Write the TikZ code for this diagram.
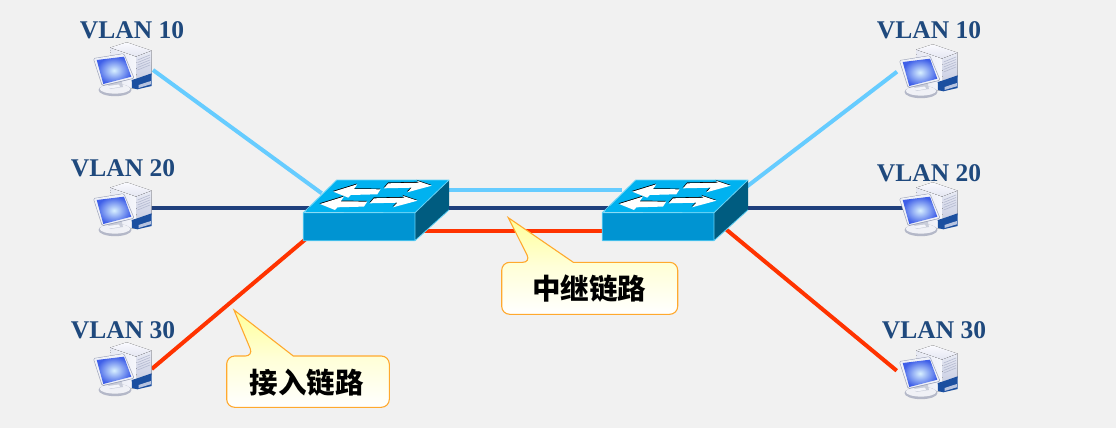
\documentclass[tikz,border=0pt]{standalone}
\usepackage{fontspec}
\setmainfont{Liberation Serif}
\newfontfamily\cjk{Noto Sans CJK SC}
\usetikzlibrary{calc}
\definecolor{bgc}{HTML}{F1F1F1}
\definecolor{lan}{HTML}{1F497D}
\definecolor{lblue}{HTML}{66CCFF}
\definecolor{nblue}{HTML}{1F3F7C}
\definecolor{rred}{HTML}{FF3300}
\definecolor{swtop}{HTML}{00B2F0}
\definecolor{swfront}{HTML}{0094D2}
\definecolor{swside}{HTML}{005C80}
\definecolor{swedge}{HTML}{66D4F8}
\definecolor{orng}{HTML}{FFA92E}
\definecolor{twA}{HTML}{FAFAFE}
\definecolor{twB}{HTML}{E4E6F2}
\definecolor{twC}{HTML}{E6E8F2}
\definecolor{twD}{HTML}{F6F7FC}
\definecolor{twE}{HTML}{E8EAF4}
\definecolor{twF}{HTML}{C8CDE2}
\definecolor{twG}{HTML}{B4B9D0}
\definecolor{twH}{HTML}{1B4FA0}
\definecolor{twI}{HTML}{B8C4E0}
\definecolor{bsA}{HTML}{B4B8C8}
\definecolor{bsB}{HTML}{F0F1F6}
\definecolor{bsC}{HTML}{C9CDDA}
\definecolor{bsD}{HTML}{F4F5FA}
\definecolor{moA}{HTML}{9CA2B8}
\definecolor{moB}{HTML}{F0F2F8}
\definecolor{moC}{HTML}{D8F0FF}
\definecolor{moD}{HTML}{3F5FE8}
\definecolor{tipA}{HTML}{FFFF99}
\definecolor{tipB}{HTML}{FFFFD8}
\tikzset{
  x=1pt,y=-1pt,
  link/.style={line width=4pt,line cap=butt},
  vlan/.style={font=\bfseries\fontsize{25.5}{26}\selectfont,text=lan,inner sep=0pt},
  tip/.style={draw=orng,line width=1.1pt,top color=tipA,bottom color=white,middle color=tipB},
  tiptext/.style={font=\cjk\bfseries\fontsize{28.5}{30}\selectfont,text=black,inner sep=0pt},
  holder/.style={inner sep=0pt,minimum width=58pt,minimum height=54pt,anchor=north west},
  swholder/.style={inner sep=0pt,minimum width=146pt,minimum height=61pt,anchor=north west},
  pcpic/.pic={
    % tower
    \fill[top color=twA,bottom color=twB] (16,5.7)--(32.7,0.3)--(57.7,8.7)--(42,14.7)--cycle;
    \fill[left color=twC,right color=twD] (16,5.7)--(42,14.7)--(43.3,47)--(20,44)--cycle;
    \fill[top color=twE,bottom color=twF] (42,14.7)--(57.7,8.7)--(57.7,33)--(43,38)--cycle;
    \foreach \k in {0,2.5,5,7.5,10}
      \draw[line width=.6pt,color=twG] (43.6,18+\k)--(56,13+\k);
    \fill[color=twH] (37.7,38)--(43.3,36.3)--(57.7,31.3)--(57.7,44)--(43.3,47.3)--(38,46)--cycle;
    \fill[color=twI] (44.5,46)--(56.8,42.3)--(56.8,39)--(44.5,43)--cycle;
    % base
    \fill[color=bsA] (21,48) ellipse [x radius=16.5,y radius=6.2];
    \fill[color=bsB] (21,46.8) ellipse [x radius=15.2,y radius=4.8];
    \fill[color=bsC] (12,38)--(27,36)--(29,45)--(16,47)--cycle;
    \fill[color=bsD] (14,44)--(25,42.5)--(26,45)--(16,46.4)--cycle;
    % monitor
    \fill[color=moA,rounded corners=1.5pt] (-0.9,16.3)--(30,11.3)--(40.5,36.5)--(8,44.2)--cycle;
    \fill[color=moB,rounded corners=1.2pt] (-0.2,16.7)--(29.6,11.9)--(39.6,36)--(8.4,43.2)--cycle;
    \shade[inner color=moC,outer color=moD] (2.7,18)--(30,14.7)--(37.3,34.7)--(9.3,42)--cycle;
  },
  swpic/.pic={
    \fill[color=swtop] (1.7,32)--(33.4,0)--(145.7,0)--(111.7,32.7)--cycle;
    \fill[color=swfront] (0,32.7) rectangle (111.7,60.7);
    \fill[color=swside] (111.7,32.7)--(145.7,0)--(145.7,30)--(111.7,60.7)--cycle;
    \draw[color=swedge,line width=.8pt,line join=round]
      (0,60.7)--(0,32.7)--(33.4,0)--(145.7,0)--(111.7,32.7)--(0,32.7)
      (111.7,32.7)--(111.7,60.7)--(0,60.7) (111.7,60.7)--(145.7,30);
    \foreach \dx/\dy in {0/0,-13.3/12.3}{
      \fill[color=black,shift={(\dx-.5,\dy-.7)}] (30,11.7)--(54,4.3)--(50.7,9)--(77.3,9.3)--(74,14.3)--(47.4,15)--(45,17.7)--cycle;
      \fill[color=white,shift={(\dx,\dy)}] (30,11.7)--(54,4.3)--(50.7,9)--(77.3,9.3)--(74,14.3)--(47.4,15)--(45,17.7)--cycle;
    }
    \foreach \dx/\dy in {0/0,-14.3/15}{
      \fill[color=black,shift={(\dx-.3,\dy-.8)}] (128.4,5.7)--(113.4,0.7)--(116,2.7)--(85,3.3)--(80.7,8.3)--(108.4,7.7)--(104,12.3)--cycle;
      \fill[color=white,shift={(\dx,\dy)}] (128.4,5.7)--(113.4,0.7)--(116,2.7)--(85,3.3)--(80.7,8.3)--(108.4,7.7)--(104,12.3)--cycle;
    }
  },
}
\begin{document}
\begin{tikzpicture}
\fill[color=bgc] (0,0) rectangle (1116,428);
\useasboundingbox (0,0) rectangle (1116,428);
% holders
\node[holder] (pcA) at (94,42) {};
\node[holder] (pcB) at (94,182) {};
\node[holder] (pcC) at (94,342) {};
\node[holder] (pcD) at (900,44) {};
\node[holder] (pcE) at (900,182) {};
\node[holder] (pcF) at (900,345) {};
\node[swholder] (swL) at (303.3,180) {};
\node[swholder] (swR) at (602.3,180) {};
% ports
\coordinate (pAp) at (153,70);
\coordinate (pBp) at (150,207.8);
\coordinate (pCp) at (151.7,369);
\coordinate (pDp) at (897,71.7);
\coordinate (pEp) at (905,207.8);
\coordinate (pFp) at (896.7,370.7);
\coordinate (sLa) at (321.7,193.3);
\coordinate (sLb) at (310,207.8);
\coordinate (sLc) at (307,238);
\coordinate (sLd) at (445,189.7);
\coordinate (sLe) at (445,207.8);
\coordinate (sLf) at (420,231);
\coordinate (sRa) at (622,189.7);
\coordinate (sRb) at (610,207.8);
\coordinate (sRc) at (605,231);
\coordinate (sRd) at (745,188);
\coordinate (sRe) at (745,207.8);
\coordinate (sRf) at (722,226);
% connectors
\draw[link,lblue] (pAp)--(sLa);
\draw[link,nblue] (pBp)--(sLb);
\draw[link,rred] (pCp)--(sLc);
\draw[link,lblue] (sLd)--(sRa);
\draw[link,nblue] (sLe)--(sRb);
\draw[link,rred] (sLf)--(sRc);
\draw[link,lblue] (sRd)--(pDp);
\draw[link,nblue] (sRe)--(pEp);
\draw[link,rred] (sRf)--(pFp);
% devices
\pic at (pcA.north west) {pcpic};
\pic at (pcB.north west) {pcpic};
\pic at (pcC.north west) {pcpic};
\pic at (pcD.north west) {pcpic};
\pic at (pcE.north west) {pcpic};
\pic at (pcF.north west) {pcpic};
\pic at (swL.north west) {swpic};
\pic at (swR.north west) {swpic};
% labels
\node[vlan] (tA) at (132,30) {VLAN 10};
\node[vlan] (tB) at (123,168) {VLAN 20};
\node[vlan] (tC) at (123,330) {VLAN 30};
\node[vlan] (tD) at (929,30) {VLAN 10};
\node[vlan] (tE) at (929,173) {VLAN 20};
\node[vlan] (tF) at (934,330) {VLAN 30};
% callouts
\path[tip] (234,310)--(293.3,356)
  [rounded corners=8pt]--(389.3,356)--(389.3,407.3)--(226.7,407.3)--(226.7,356)
  --(253.3,356)[sharp corners]--cycle;
\path[tip] (508.3,217.7)--(573.3,262.3)
  [rounded corners=8pt]--(677.7,262.3)--(677.7,314.3)--(501.7,314.3)--(501.7,262.3)
  --(530.7,262.3)[sharp corners]--cycle;
\node[tiptext] (cA) at (306.5,383) {接入链路};
\node[tiptext] (cB) at (589,289) {中继链路};
\end{tikzpicture}
\end{document}
